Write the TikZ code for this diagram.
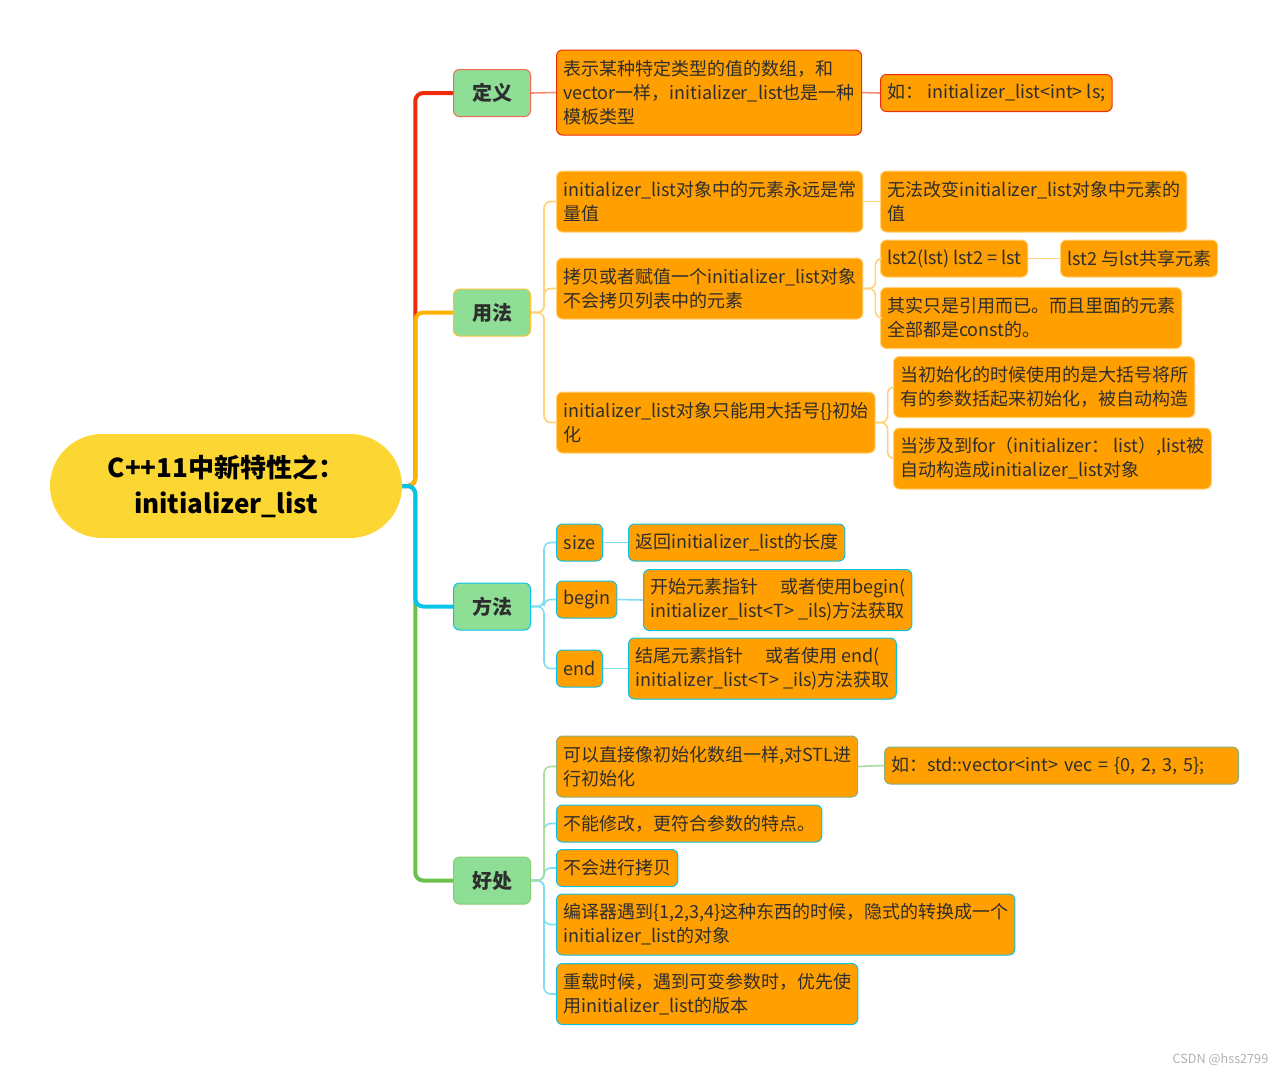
\documentclass[tikz,border=0pt]{standalone}
\usepackage{fontspec}
\setmainfont{Noto Sans CJK SC}
\usepackage{xcolor}
\usepackage{tikz}
\usetikzlibrary{calc}

\definecolor{rootc}{HTML}{FCD734}
\definecolor{topc}{HTML}{8EDE96}
\definecolor{leafc}{HTML}{FF9F00}
\definecolor{txtc}{HTML}{2E2E2E}
\definecolor{redc}{HTML}{EE2B0B}
\definecolor{ambc}{HTML}{FFB300}
\definecolor{cyanc}{HTML}{08C3E9}
\definecolor{grnc}{HTML}{6BC04B}
\definecolor{redl}{HTML}{F48A78}
\definecolor{ambl}{HTML}{FFD27A}
\definecolor{cyanl}{HTML}{80DDF2}
\definecolor{grnl}{HTML}{A9DC9E}

\begin{document}
\begin{tikzpicture}[x=0.75pt,y=-0.75pt,
		rootbox/.style={fill=rootc, rounded corners=39pt, minimum width=264pt, minimum height=78pt, align=center, text=black, font=\fontsize{19.5}{27}\selectfont\bfseries},
		topic/.style={draw=#1, fill=topc, line width=0.75pt, rounded corners=4.5pt, minimum width=57.75pt, minimum height=35.25pt, anchor=west, text=txtc, font=\fontsize{15}{18}\selectfont\bfseries},
		leaf/.style={draw=#1, fill=leafc, line width=0.75pt, rounded corners=4.5pt, anchor=west, inner xsep=5pt, inner ysep=1pt, align=left, text=txtc, minimum height=27.75pt, font=\fontsize{13.5}{18}\selectfont},
		twoline/.style={minimum height=45.75pt},
		threeline/.style={minimum height=63.75pt},
		trunk/.style={line width=3pt, rounded corners=6pt, draw=#1},
		twig/.style={line width=1.2pt, rounded corners=5pt, draw=#1}
	]
	\useasboundingbox (0,0) rectangle (1288,1075);

	\node[rootbox] (root) at (226,486) {C++11中新特性之：\\initializer\_list};

	\node[topic=redc!70] (def) at (453,93) {定义};
	\node[topic=ambc!80] (use) at (453,312.5) {用法};
	\node[topic=cyanc] (meth) at (453,606.5) {方法};
	\node[topic=grnc!80] (good) at (453,880.5) {好处};

	\draw[trunk=redc] (root.east) -- ++(13,0) |- (def.west);
	\draw[trunk=ambc] (root.east) -- ++(13,0) |- (use.west);
	\draw[trunk=grnc] (root.east) -- ++(13,0) |- (good.west);
	\draw[trunk=cyanc] (root.east) -- ++(13,0) |- (meth.west);

	\node[leaf=redc, threeline] (def1) at (556,92.5) {表示某种特定类型的值的数组，和\\vector一样，initializer\_list也是一种\\模板类型};
	\node[leaf=redc] (def2) at (880,93) {如： initializer\_list<int> ls;};

	\node[leaf=ambl, twoline] (use1) at (556,201.5) {initializer\_list对象中的元素永远是常\\量值};
	\node[leaf=ambl, twoline] (use1a) at (880,201.5) {无法改变initializer\_list对象中元素的\\值};
	\node[leaf=ambl, twoline] (use2) at (556,288.5) {拷贝或者赋值一个initializer\_list对象\\不会拷贝列表中的元素};
	\node[leaf=ambl] (use2a) at (880,258.5) {lst2(lst) lst2 = lst};
	\node[leaf=ambl] (use2b) at (1060,258.5) {lst2 与lst共享元素};
	\node[leaf=ambl, twoline] (use2c) at (880,318) {其实只是引用而已。而且里面的元素\\全部都是const的。};
	\node[leaf=ambl, twoline] (use3) at (556,422.5) {initializer\_list对象只能用大括号\{\}初始\\化};
	\node[leaf=ambl, twoline] (use3a) at (893,387) {当初始化的时候使用的是大括号将所\\有的参数括起来初始化，被自动构造};
	\node[leaf=ambl, twoline] (use3b) at (893,458.5) {当涉及到for（initializer： list）,list被\\自动构造成initializer\_list对象};

	\node[leaf=cyanc, minimum width=34.5pt] (size) at (556,542.5) {size};
	\node[leaf=cyanc] (size1) at (628,542.5) {返回initializer\_list的长度};
	\node[leaf=cyanc] (begin) at (556,599.5) {begin};
	\node[leaf=cyanc, twoline] (begin1) at (643,600) {开始元素指针　 或者使用begin(\\initializer\_list<T> \_ils)方法获取};
	\node[leaf=cyanc, minimum width=34.5pt] (end) at (556,668.5) {end};
	\node[leaf=cyanc, twoline] (end1) at (628,668.5) {结尾元素指针　 或者使用 end(\\initializer\_list<T> \_ils)方法获取};

	\node[leaf=grnl!80!black, twoline] (good1) at (556,766.5) {可以直接像初始化数组一样,对STL进\\行初始化};
	\node[leaf=grnl!80!black, text width=255.5pt] (good1a) at (884,765.5) {如：std::vector<int> vec = \{0, 2, 3, 5\};};
	\node[leaf=cyanc] (good2) at (556,823.5) {不能修改，更符合参数的特点。};
	\node[leaf=cyanc] (good3) at (556,868) {不会进行拷贝};
	\node[leaf=cyanc, twoline] (good4) at (556,924.5) {编译器遇到\{1,2,3,4\}这种东西的时候，隐式的转换成一个\\initializer\_list的对象};
	\node[leaf=cyanc, twoline] (good5) at (556,994) {重载时候，遇到可变参数时，优先使\\用initializer\_list的版本};

	\draw[twig=redl] (def.east) -- (def1.west);
	\draw[twig=redl] (def1.east) -- (def2.west);

	\draw[twig=ambl] (use.east) -- ++(13,0) |- (use1.west);
	\draw[twig=ambl] (use.east) -- ++(13,0) |- (use2.west);
	\draw[twig=ambl] (use.east) -- ++(13,0) |- (use3.west);
	\draw[twig=ambl] (use1.east) -- (use1a.west);
	\draw[twig=ambl] (use2.east) -- ++(12,0) |- (use2a.west);
	\draw[twig=ambl] (use2.east) -- ++(12,0) |- (use2c.west);
	\draw[twig=ambl] (use2a.east) -- (use2b.west);
	\draw[twig=ambl] (use3.east) -- ++(12,0) |- (use3a.west);
	\draw[twig=ambl] (use3.east) -- ++(12,0) |- (use3b.west);

	\draw[twig=cyanl] (meth.east) -- ++(13,0) |- (size.west);
	\draw[twig=cyanl] (meth.east) -- ++(13,0) |- (begin.west);
	\draw[twig=cyanl] (meth.east) -- ++(13,0) |- (end.west);
	\draw[twig=cyanl] (size.east) -- (size1.west);
	\draw[twig=cyanl] (begin.east) -- (begin1.west);
	\draw[twig=cyanl] (end.east) -- (end1.west);

	\draw[twig=cyanl] (good.east) -- ++(13,0) |- (good5.west);
	\draw[twig=cyanl] (good.east) -- ++(13,0) |- (good4.west);
	\draw[twig=cyanl] (good.east) -- ++(13,0) |- (good3.west);
	\draw[twig=cyanl] (good.east) -- ++(13,0) |- (good2.west);
	\draw[twig=grnl] (good.east) -- ++(13,0) |- (good1.west);
	\draw[twig=grnl] (good1.east) -- (good1a.west);

	\node[anchor=east, text=gray!60, font=\fontsize{9.5}{10}\selectfont] (mark) at (1273,1060) {CSDN @hss2799};
\end{tikzpicture}
\end{document}
